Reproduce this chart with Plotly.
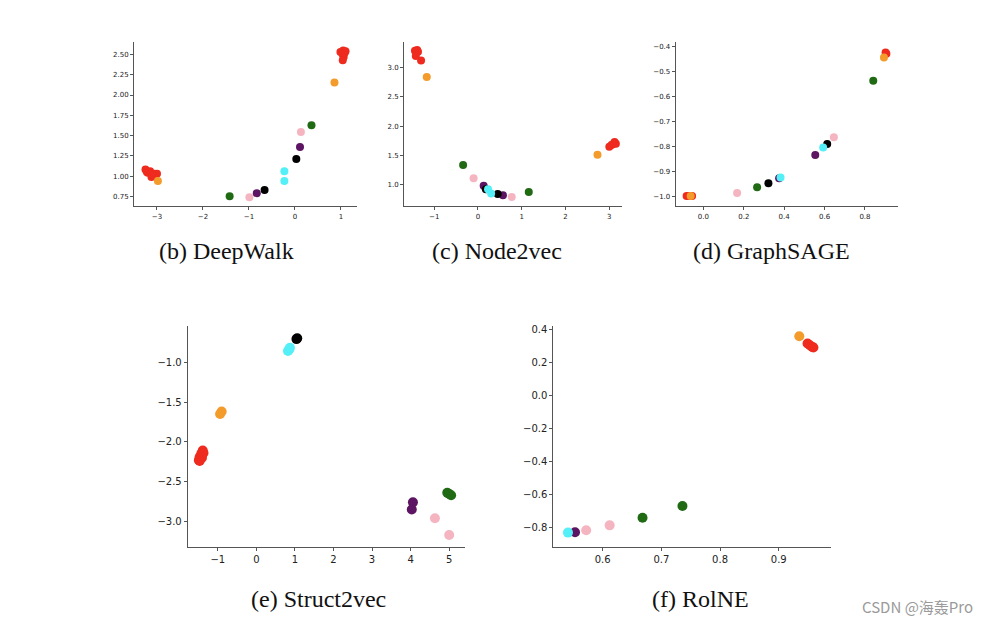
import plotly.graph_objects as go

W, H = 987, 622

COLORS = {
    "red": "#EE2B1E", "orange": "#F39B2B", "green": "#1F6A13", "pink": "#F5B5C0",
    "purple": "#5C1463", "black": "#000000", "cyan": "#54EFF7",
}

# ---- data ----
deepwalk_x = [-3.25, -3.2, -3.15, -3.12, -3.05, -3.0, -3.22, -3.1, -2.98, -1.42, -0.99, -0.83, -0.66,
              -0.23, -0.23, 0.03, 0.11, 0.13, 0.36, 0.86, 0.99, 1.05, 1.1, 1.04, 1.06, 1.04, 1.08]
deepwalk_y = [1.08, 1.04, 1.06, 0.99, 1.03, 1.03, 1.05, 1.02, 0.94, 0.75, 0.74, 0.79, 0.83,
              0.94, 1.06, 1.21, 1.36, 1.545, 1.627, 2.156, 2.53, 2.55, 2.54, 2.50, 2.47, 2.43, 2.52]
deepwalk_c = ["red"] * 8 + ["orange", "green", "pink", "purple", "black", "cyan", "cyan", "black",
              "purple", "pink", "green", "orange"] + ["red"] * 7

node2vec_x = [-1.44, -1.39, -1.37, -1.42, -1.30, -1.17, -0.34, -0.10, 0.13, 0.18, 0.23, 0.30, 0.45,
              0.57, 0.77, 1.16, 2.73, 3.0, 3.05, 3.12, 3.15, 3.08]
node2vec_y = [3.29, 3.30, 3.27, 3.20, 3.12, 2.84, 1.335, 1.11, 0.98, 0.92, 0.92, 0.85, 0.84,
              0.82, 0.79, 0.875, 1.51, 1.65, 1.68, 1.73, 1.70, 1.69]
node2vec_c = ["red"] * 5 + ["orange", "green", "pink", "purple", "black", "cyan", "cyan", "black",
              "purple", "pink", "green", "orange"] + ["red"] * 5

graphsage_x = [-0.083, -0.071, -0.056, -0.063, 0.167, 0.266, 0.322, 0.375, 0.382, 0.554, 0.593,
               0.613, 0.646, 0.841, 0.894, 0.902, 0.906]
graphsage_y = [-0.999, -0.999, -0.999, -0.999, -0.987, -0.964, -0.947, -0.927, -0.924, -0.834,
               -0.804, -0.79, -0.763, -0.537, -0.444, -0.424, -0.429]
graphsage_c = ["red", "red", "red", "orange", "pink", "green", "black", "purple", "cyan", "purple",
               "cyan", "black", "pink", "green", "orange", "red", "red"]

struct2vec_x = [1.06, 1.04, 0.85, 0.82, 0.87, -0.90, -0.94, -1.39, -1.43, -1.47, -1.49, -1.41, -1.37,
                -1.47, 4.06, 4.03, 4.95, 5.05, 5.0, 4.63, 5.0]
struct2vec_y = [-0.70, -0.71, -0.84, -0.86, -0.82, -1.62, -1.65, -2.11, -2.15, -2.19, -2.23, -2.20,
                -2.14, -2.24, -2.76, -2.85, -2.64, -2.67, -2.655, -2.96, -3.17]
struct2vec_c = ["black", "black", "cyan", "cyan", "cyan", "orange", "orange"] + ["red"] * 7 + \
               ["purple", "purple", "green", "green", "green", "pink", "pink"]

rolne_x = [0.935, 0.949, 0.953, 0.957, 0.959, 0.541, 0.553, 0.572, 0.612, 0.668, 0.736]
rolne_y = [0.358, 0.313, 0.303, 0.293, 0.289, -0.834, -0.832, -0.82, -0.79, -0.744, -0.673]
rolne_c = ["orange", "red", "red", "red", "red", "cyan", "purple", "pink", "pink", "green", "green"]

captions = ["(b) DeepWalk", "(c) Node2vec", "(d) GraphSAGE", "(e) Struct2vec", "(f) RolNE"]

# ---- layout (pixel boxes: left, right, top, bottom) ----
panels = [
    dict(x=deepwalk_x, y=deepwalk_y, c=deepwalk_c, box=(134, 357, 40, 205),
         xr=[-3.5, 1.35], yr=[0.627, 2.656], xt=[-3, -2, -1, 0, 1], yt=[0.75, 1.0, 1.25, 1.5, 1.75, 2.0, 2.25, 2.5],
         yfmt=".2f", xfmt="d", size=8, font=7, cap=(226, 250)),
    dict(x=node2vec_x, y=node2vec_y, c=node2vec_c, box=(404, 622, 40, 205),
         xr=[-1.69, 3.29], yr=[0.63, 3.44], xt=[-1, 0, 1, 2, 3], yt=[1.0, 1.5, 2.0, 2.5, 3.0],
         yfmt=".1f", xfmt="d", size=8, font=7, cap=(497, 250)),
    dict(x=graphsage_x, y=graphsage_y, c=graphsage_c, box=(675.7, 897.7, 40, 205),
         xr=[-0.137, 0.962], yr=[-1.04, -0.381], xt=[0.0, 0.2, 0.4, 0.6, 0.8],
         yt=[-1.0, -0.9, -0.8, -0.7, -0.6, -0.5, -0.4],
         yfmt=".1f", xfmt=".1f", size=8, font=7, cap=(771, 250)),
    dict(x=struct2vec_x, y=struct2vec_y, c=struct2vec_c, box=(187.7, 465, 325, 546.7),
         xr=[-1.78, 5.41], yr=[-3.32, -0.545], xt=[-1, 0, 1, 2, 3, 4, 5], yt=[-3.0, -2.5, -2.0, -1.5, -1.0],
         yfmt=".1f", xfmt="d", size=10, font=10, cap=(318, 599)),
    dict(x=rolne_x, y=rolne_y, c=rolne_c, box=(553.3, 831, 325, 546.7),
         xr=[0.516, 0.989], yr=[-0.921, 0.42], xt=[0.6, 0.7, 0.8, 0.9], yt=[-0.8, -0.6, -0.4, -0.2, 0.0, 0.2, 0.4],
         yfmt=".1f", xfmt=".1f", size=10, font=10, cap=(700, 599)),
]

fig = go.Figure()
annotations = []

def fmt(v, f):
    s = format(int(v), "d") if f == "d" else format(v, f)
    return s.replace("-", "\u2212")

for i, p in enumerate(panels):
    n = "" if i == 0 else str(i + 1)
    l, r, t, b = p["box"]
    for col in ["red", "orange", "green", "pink", "purple", "black", "cyan"]:
        xs = [xv for xv, cv in zip(p["x"], p["c"]) if cv == col]
        ys = [yv for yv, cv in zip(p["y"], p["c"]) if cv == col]
        if not xs:
            continue
        fig.add_trace(go.Scatter(x=xs, y=ys, mode="markers", xaxis="x" + n, yaxis="y" + n,
                                 marker=dict(color=COLORS[col], size=p["size"], line=dict(width=0)),
                                 showlegend=False, hoverinfo="skip"))
    axcommon = dict(showline=True, linecolor="#555555", linewidth=1, showgrid=False, zeroline=False,
                    ticks="outside", ticklen=3, tickcolor="#555555", tickwidth=1,
                    tickfont=dict(family="DejaVu Sans", size=p["font"], color="#222222"), mirror=False)
    fig.update_layout(**{
        "xaxis" + n: dict(domain=[l / W, r / W], range=p["xr"], anchor="y" + n,
                          tickvals=p["xt"], ticktext=[fmt(v, p["xfmt"]) for v in p["xt"]], **axcommon),
        "yaxis" + n: dict(domain=[1 - b / H, 1 - t / H], range=p["yr"], anchor="x" + n,
                          tickvals=p["yt"], ticktext=[fmt(v, p["yfmt"]) for v in p["yt"]], **axcommon),
    })
    cx, cy = p["cap"]
    annotations.append(dict(text=captions[i], x=cx / W, y=1 - cy / H, xref="paper", yref="paper",
                            showarrow=False, xanchor="center", yanchor="middle",
                            font=dict(family="Liberation Serif", size=24, color="#111111")))

annotations.append(dict(text="CSDN @海轰Pro", x=975 / W, y=1 - 606 / H, xref="paper", yref="paper",
                        showarrow=False, xanchor="right", yanchor="middle",
                        font=dict(family="Noto Sans CJK SC", size=15, color="#9a9a9a")))

fig.update_layout(width=W, height=H, margin=dict(l=0, r=0, t=0, b=0),
                  paper_bgcolor="white", plot_bgcolor="white", annotations=annotations)

fig.write_html("out.html")
